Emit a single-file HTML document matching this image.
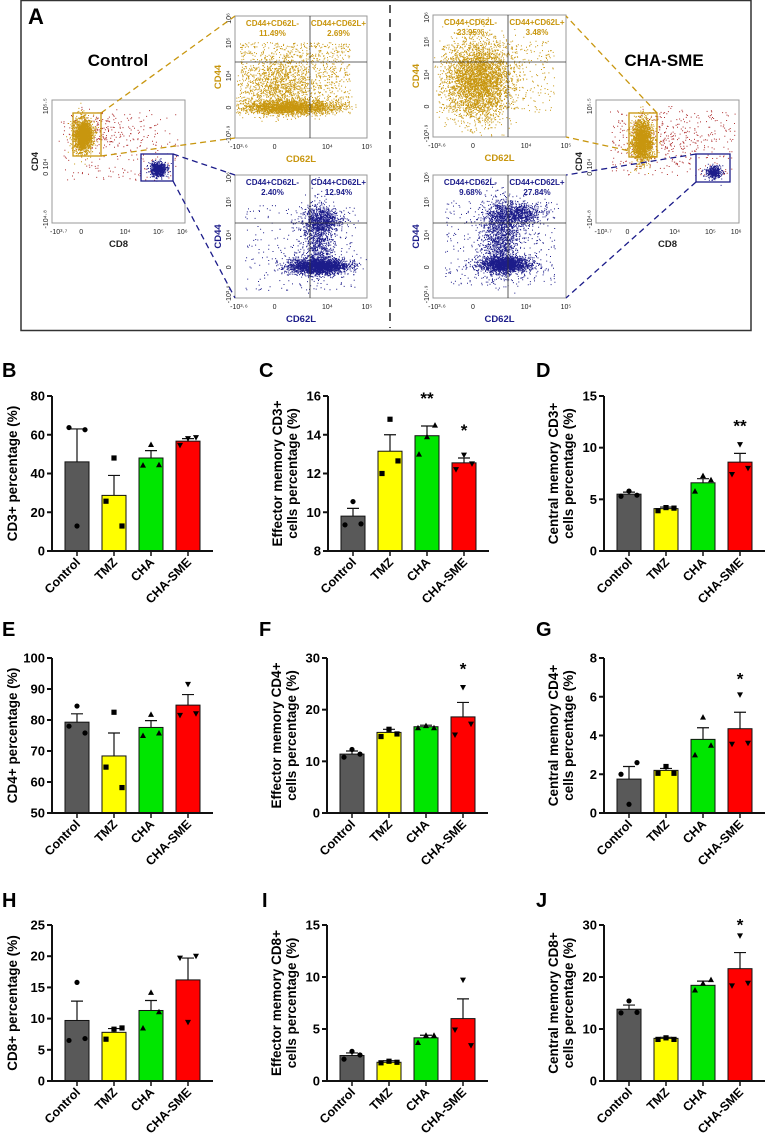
<!DOCTYPE html>
<html><head><meta charset="utf-8">
<style>
html,body{margin:0;padding:0;background:#fff;}
svg{display:block;font-family:"Liberation Sans",Arial,sans-serif;}
</style></head>
<body>
<svg id="fig" width="768" height="1133" viewBox="0 0 768 1133" xmlns="http://www.w3.org/2000/svg">
<rect width="768" height="1133" fill="#fff"/>
<g id="panelA">
<rect x="21" y="0.5" width="730" height="330" fill="none" stroke="#333" stroke-width="1.5"/>
<line x1="390" y1="5" x2="390" y2="328" stroke="#222" stroke-width="1.5" stroke-dasharray="8,6"/>
<text x="28" y="24" font-size="22" font-weight="bold">A</text>
<text x="118" y="66" font-size="17" font-weight="bold" text-anchor="middle">Control</text>
<text x="664" y="66" font-size="17" font-weight="bold" text-anchor="middle">CHA-SME</text>
</g>
<g id="bars"></g>
</svg>
<script>
// ---------- Bar chart data ----------
const groups = ["Control","TMZ","CHA","CHA-SME"];
const meansB = [46, 28.7, 48, 56.7];
const errB   = [63, 39, 51.8, 58];
const ptsB   = [[63.7,12.9,62.6],[25.7,48,12.9],[44.3,55,44.5],[54.5,58,58.5]];
const meansC = [9.8, 13.15, 13.95, 12.55];
const errC   = [10.2, 14.0, 14.45, 12.8];
const ptsC   = [[9.35,10.55,9.4],[12.0,14.8,12.65],[13.0,13.9,14.5],[12.2,12.95,12.5]];
const meansD = [5.5, 4.1, 6.6, 8.6];
const errD   = [5.7, 4.25, 7.0, 9.45];
const ptsD   = [[5.3,5.8,5.4],[3.9,4.2,4.15],[5.8,7.3,6.9],[7.4,10.3,8.0]];
const meansE = [79.3, 68.4, 77.6, 84.8];
const errE   = [82, 75.8, 79.8, 88.2];
const ptsE   = [[78,84.5,75.8],[64.8,82.5,58.2],[75,81.8,75.8],[81.5,91.5,82]];
const meansF = [11.4, 15.6, 16.7, 18.6];
const errF   = [12.0, 16.2, 17.0, 21.4];
const ptsF   = [[10.8,12.3,11.4],[14.8,16.2,15.3],[16.5,16.9,16.5],[15.1,24.3,17.2]];
const meansG = [1.75, 2.2, 3.8, 4.35];
const errG   = [2.4, 2.3, 4.4, 5.2];
const ptsG   = [[2.0,0.45,2.6],[2.05,2.4,2.05],[3.0,4.95,3.5],[3.55,6.1,3.6]];
const meansH = [9.7, 7.8, 11.3, 16.2];
const errH   = [12.8, 8.4, 12.9, 19.7];
const ptsH   = [[6.5,15.8,6.8],[6.7,8.3,8.5],[8.5,14.2,11.1],[19.7,9.4,20]];
const meansI = [2.45, 1.8, 4.15, 6.0];
const errI   = [2.7, 1.95, 4.4, 7.9];
const ptsI   = [[2.1,2.85,2.5],[1.75,1.9,1.8],[3.7,4.4,4.4],[4.9,9.7,3.4]];
const meansJ = [13.8, 8.2, 18.4, 21.6];
const errJ   = [14.6, 8.4, 19.2, 24.7];
const ptsJ   = [[13.1,15.4,13.2],[8.0,8.3,8.0],[17.5,18.8,19.5],[18.3,27.9,18.8]];
const ticksB = [0,20,40,60,80], ticksC=[8,10,12,14,16], ticksD=[0,5,10,15];
const ticksE = [50,60,70,80,90,100], ticksF=[0,10,20,30], ticksG=[0,2,4,6,8];
const ticksH = [0,5,10,15,20,25], ticksI=[0,5,10,15], ticksJ=[0,10,20,30];
const starsC = ["","","**","*"], starsD=["","","","**"], starsF=["","","","*"], starsG=["","","","*"], starsJ=["","","","*"];
const none = ["","","",""];

const NS="http://www.w3.org/2000/svg";
const fig=document.getElementById('fig');
function mk(tag,attrs,parent){const e=document.createElementNS(NS,tag);for(const k in attrs)e.setAttribute(k,attrs[k]);(parent||fig).appendChild(e);return e;}
const colors=["#595959","#ffff00","#00e600","#ff0000"];
const shapes=["circle","square","up","down"];

function chart(cfg){
  const g=mk('g',{});
  
  
  const {ax,top,bot,min,max}=cfg;
  const y=v=>bot-(v-min)/(max-min)*(bot-top);
  const xc=i=>ax+25+i*37;
  const L=mk('text',{x:cfg.lx,y:cfg.ly,'font-size':20,'font-weight':'bold'},g);L.textContent=cfg.id.toUpperCase();
  
  
  cfg.means.forEach((m,i)=>{
    const r=mk('rect',{x:xc(i)-12,y:y(m),width:24,height:bot-y(m),fill:colors[i],stroke:'#111','stroke-width':1},g);
    
    
    const e=mk('path',{d:`M${xc(i)} ${y(m)}V${y(cfg.err[i])}M${xc(i)-6} ${y(cfg.err[i])}H${xc(i)+6}`,stroke:'#111','stroke-width':1.2,fill:'none'},g);
    
    
    cfg.pts[i].forEach((v,j)=>{
      const px=xc(i)+(j-1)*8, py=y(v); let p;
      if(shapes[i]=='circle') p=mk('circle',{cx:px,cy:py,r:2.6,fill:'#000'},g);
      else if(shapes[i]=='square') p=mk('rect',{x:px-2.6,y:py-2.6,width:5.2,height:5.2,fill:'#000'},g);
      else if(shapes[i]=='up') p=mk('path',{d:`M${px} ${py-3}L${px+3} ${py+2.5}L${px-3} ${py+2.5}Z`,fill:'#000'},g);
      else p=mk('path',{d:`M${px} ${py+3}L${px+3} ${py-2.5}L${px-3} ${py-2.5}Z`,fill:'#000'},g);
      
      
    });
    if(cfg.stars[i]){const s=mk('text',{x:xc(i),y:y(cfg.err[i])-cfg.starOff,'font-size':17,'font-weight':'bold','text-anchor':'middle'},g);s.textContent=cfg.stars[i];
      
      }
    mk('line',{x1:xc(i),y1:bot,x2:xc(i),y2:bot+5,stroke:'#111','stroke-width':1.5},g);
    const t=mk('text',{transform:`translate(${xc(i)+4},${bot+12}) rotate(-45)`,'font-size':12.5,'font-weight':'bold','text-anchor':'end'},g);
    t.textContent=groups[i];
    
    
  });
  const a=mk('path',{d:`M${ax} ${top}V${bot}H${ax+161}`,stroke:'#111','stroke-width':2,fill:'none'},g);
  
  
  cfg.ticks.forEach(v=>{
    mk('line',{x1:ax-5,y1:y(v),x2:ax,y2:y(v),stroke:'#111','stroke-width':2},g);
    const t=mk('text',{x:ax-7,y:y(v)+4.5,'font-size':13,'font-weight':'bold','text-anchor':'end'},g);t.textContent=v;
    
    
  });
  const cy=(top+bot)/2;
  cfg.ylab.forEach((s,k)=>{
    const xx=cfg.ylab.length==1?ax-35:ax-46+k*15;
    const t=mk('text',{transform:`translate(${xx},${cy}) rotate(-90)`,'font-size':13.5,'font-weight':'bold','text-anchor':'middle'},g);
    t.textContent=s;
    
    
  });
}
const R1=[396,551],R2=[658,813],R3=[925,1081];
chart({id:'b',ax:52,top:R1[0],bot:R1[1],min:0,max:80,ticks:ticksB,means:meansB,err:errB,pts:ptsB,stars:none,starOff:8,ylab:["CD3+ percentage (%)"],lx:2,ly:377});
chart({id:'c',ax:328,top:R1[0],bot:R1[1],min:8,max:16,ticks:ticksC,means:meansC,err:errC,pts:ptsC,stars:starsC,starOff:22,ylab:["Effector memory CD3+","cells percentage (%)"],lx:259,ly:377});
chart({id:'d',ax:604,top:R1[0],bot:R1[1],min:0,max:15,ticks:ticksD,means:meansD,err:errD,pts:ptsD,stars:starsD,starOff:22,ylab:["Central memory CD3+","cells percentage (%)"],lx:536,ly:377});
chart({id:'e',ax:52,top:R2[0],bot:R2[1],min:50,max:100,ticks:ticksE,means:meansE,err:errE,pts:ptsE,stars:none,starOff:8,ylab:["CD4+ percentage (%)"],lx:2,ly:636});
chart({id:'f',ax:327,top:R2[0],bot:R2[1],min:0,max:30,ticks:ticksF,means:meansF,err:errF,pts:ptsF,stars:starsF,starOff:28,ylab:["Effector memory CD4+","cells percentage (%)"],lx:259,ly:636});
chart({id:'g',ax:604,top:R2[0],bot:R2[1],min:0,max:8,ticks:ticksG,means:meansG,err:errG,pts:ptsG,stars:starsG,starOff:28,ylab:["Central memory CD4+","cells percentage (%)"],lx:536,ly:636});
chart({id:'h',ax:52,top:R3[0],bot:R3[1],min:0,max:25,ticks:ticksH,means:meansH,err:errH,pts:ptsH,stars:none,starOff:8,ylab:["CD8+ percentage (%)"],lx:2,ly:907});
chart({id:'i',ax:327,top:R3[0],bot:R3[1],min:0,max:15,ticks:ticksI,means:meansI,err:errI,pts:ptsI,stars:none,starOff:8,ylab:["Effector memory CD8+","cells percentage (%)"],lx:262,ly:907});
chart({id:'j',ax:604,top:R3[0],bot:R3[1],min:0,max:30,ticks:ticksJ,means:meansJ,err:errJ,pts:ptsJ,stars:starsJ,starOff:22,ylab:["Central memory CD8+","cells percentage (%)"],lx:536,ly:907});

// ---------- Panel A flow plots (decorative density clouds) ----------
const A=document.getElementById('panelA');
let seed=12345;
function rnd(){seed=(seed*1103515245+12345)%2147483648;return seed/2147483648;}
function gauss(){let u=rnd()||1e-6,v=rnd();return Math.sqrt(-2*Math.log(u))*Math.cos(2*Math.PI*v);}
function cloud(g,n,cx,cy,sx,sy,col,box){
  let d='';
  for(let k=0;k<n;k++){const x=cx+gauss()*sx,y=cy+gauss()*sy;
    if(x<box[0]+1||x>box[2]-1||y<box[1]+1||y>box[3]-1)continue;
    d+=`M${x.toFixed(1)} ${y.toFixed(1)}h1v1h-1z`;}
  mk('path',{d:d,fill:col},g);
}
function uni(g,n,x0,y0,x1,y1,col){let d='';for(let k=0;k<n;k++){const x=x0+rnd()*(x1-x0),y=y0+rnd()*(y1-y0);d+=`M${x.toFixed(1)} ${y.toFixed(1)}h1v1h-1z`;}mk('path',{d:d,fill:col},g);}
const GOLD="#c8960e",NAVY="#1c1c8a",RED="#b03030";
function plotFrame(name,x0,y0,x1,y1,xl,yl,xlab,ylab,labcol,xt,yt){
  const g=mk('g',{},A);
  
  
  mk('rect',{x:x0,y:y0,width:x1-x0,height:y1-y0,fill:'#fff',stroke:'#999','stroke-width':1},g);
  xt.forEach(t=>{const e=mk('text',{x:x0+t[0]*(x1-x0),y:y1+11,'font-size':7,'text-anchor':'middle',fill:'#222'},g);e.textContent=t[1];});
  yt.forEach(t=>{const e=mk('text',{transform:`translate(${x0-4},${y0+t[0]*(y1-y0)}) rotate(-90)`,'font-size':7,'text-anchor':'middle',fill:'#222'},g);e.textContent=t[1];});
  const a=mk('text',{x:(x0+x1)/2,y:y1+24,'font-size':9.5,'font-weight':'bold','text-anchor':'middle',fill:labcol},g);a.textContent=xlab;
  const b=mk('text',{transform:`translate(${x0-14},${(y0+y1)/2}) rotate(-90)`,'font-size':9.5,'font-weight':'bold','text-anchor':'middle',fill:labcol},g);b.textContent=ylab;
  return g;
}
const xtMain=[[0.05,"-10³·⁷"],[0.22,"0"],[0.55,"10⁴"],[0.8,"10⁵"],[0.98,"10⁶"]];
const ytMain=[[0.05,"10⁵·⁵"],[0.52,"10⁴"],[0.6,"0"],[0.97,"-10⁴·⁸"]];
const xtZ=[[0.03,"-10³·⁶"],[0.3,"0"],[0.7,"10⁴"],[1,"10⁵"]];
const ytZ=[[0.02,"10⁶"],[0.22,"10⁵"],[0.49,"10⁴"],[0.75,"0"],[0.97,"-10³·⁹"]];
function quad(g,x0,y0,x1,y1,qx,qy,col,l1,p1,l2,p2){
  mk('path',{d:`M${qx} ${y0}V${y1}M${x0} ${qy}H${x1}`,stroke:'#333','stroke-width':0.8,fill:'none'},g);
  [[x0+(qx-x0)/2,l1,p1],[qx+(x1-qx)/2,l2,p2]].forEach(q=>{
    const t=mk('text',{x:q[0],y:y0+10,'font-size':8,'font-weight':'bold','text-anchor':'middle',fill:col},g);t.textContent=q[1];
    const u=mk('text',{x:q[0],y:y0+20,'font-size':8,'font-weight':'bold','text-anchor':'middle',fill:col},g);u.textContent=q[2];
  });
}
let g=plotFrame('control-cd4-cd8-plot',52,100,185,223,'CD8','CD4','CD8','CD4','#222',xtMain,ytMain);
let bx=[52,100,185,223];
uni(g,220,62,112,178,180,RED);cloud(g,150,100,130,18,10,RED,bx);
cloud(g,2200,83,135,4.5,8,GOLD,bx);cloud(g,700,158,169,4,3.5,NAVY,bx);
mk('rect',{x:73,y:113,width:28,height:43,fill:'none',stroke:GOLD,'stroke-width':1.3},g);
mk('rect',{x:141,y:154,width:32,height:27,fill:'none',stroke:NAVY,'stroke-width':1.3},g);
g=plotFrame('control-cd4-gated-plot',235,16,367,138,'CD62L','CD44','CD62L','CD44',GOLD,xtZ,ytZ);
bx=[235,16,367,138];
cloud(g,2200,290,107,24,3.5,GOLD,bx);uni(g,1100,240,42,350,110,GOLD);cloud(g,900,280,85,18,14,GOLD,bx);
quad(g,235,16,367,138,310,62,GOLD,'CD44+CD62L-','11.49%','CD44+CD62L+','2.69%');
g=plotFrame('control-cd8-gated-plot',235,175,367,298,'CD62L','CD44','CD62L','CD44',NAVY,xtZ,ytZ);
bx=[235,175,367,298];
cloud(g,2400,318,266,15,4,NAVY,bx);cloud(g,900,318,238,8,18,NAVY,bx);cloud(g,700,322,220,10,6,NAVY,bx);uni(g,250,245,205,355,290,NAVY);
quad(g,235,175,367,298,310,223,NAVY,'CD44+CD62L-','2.40%','CD44+CD62L+','12.94%');
g=plotFrame('cha-sme-cd4-gated-plot',433,15,566,137,'CD62L','CD44','CD62L','CD44',GOLD,xtZ,ytZ);
bx=[433,15,566,137];
cloud(g,3600,478,80,16,20,GOLD,bx);uni(g,450,440,40,555,112,GOLD);
quad(g,433,15,566,137,508,62,GOLD,'CD44+CD62L-','23.95%','CD44+CD62L+','3.48%');
g=plotFrame('cha-sme-cd8-gated-plot',433,175,566,298,'CD62L','CD44','CD62L','CD44',NAVY,xtZ,ytZ);
bx=[433,175,566,298];
cloud(g,1800,505,264,13,4,NAVY,bx);cloud(g,1300,500,238,9,20,NAVY,bx);cloud(g,900,515,214,13,6,NAVY,bx);uni(g,400,445,200,555,285,NAVY);
quad(g,433,175,566,298,508,223,NAVY,'CD44+CD62L-','9.68%','CD44+CD62L+','27.84%');
g=plotFrame('cha-sme-cd4-cd8-plot',596,100,739,223,'CD8','CD4','CD8','CD4','#222',xtMain,ytMain);
bx=[596,100,739,223];
uni(g,300,610,110,735,175,RED);cloud(g,200,660,135,20,12,RED,bx);
cloud(g,2200,642,140,5,10,GOLD,bx);cloud(g,400,713,172,4,3,NAVY,bx);
mk('rect',{x:629,y:113,width:28,height:44,fill:'none',stroke:GOLD,'stroke-width':1.3},g);
mk('rect',{x:696,y:154,width:34,height:28,fill:'none',stroke:NAVY,'stroke-width':1.3},g);
const conn=mk('path',{d:'M101 113L235 16M101 156L235 138M657 113L566 16M657 157L566 137',stroke:GOLD,'stroke-width':1.3,'stroke-dasharray':'6,4',fill:'none'},A);


const conn2=mk('path',{d:'M173 154L235 175M173 181L235 298M696 154L566 175M696 182L566 298',stroke:NAVY,'stroke-width':1.3,'stroke-dasharray':'6,4',fill:'none'},A);


</script>
</body></html>
